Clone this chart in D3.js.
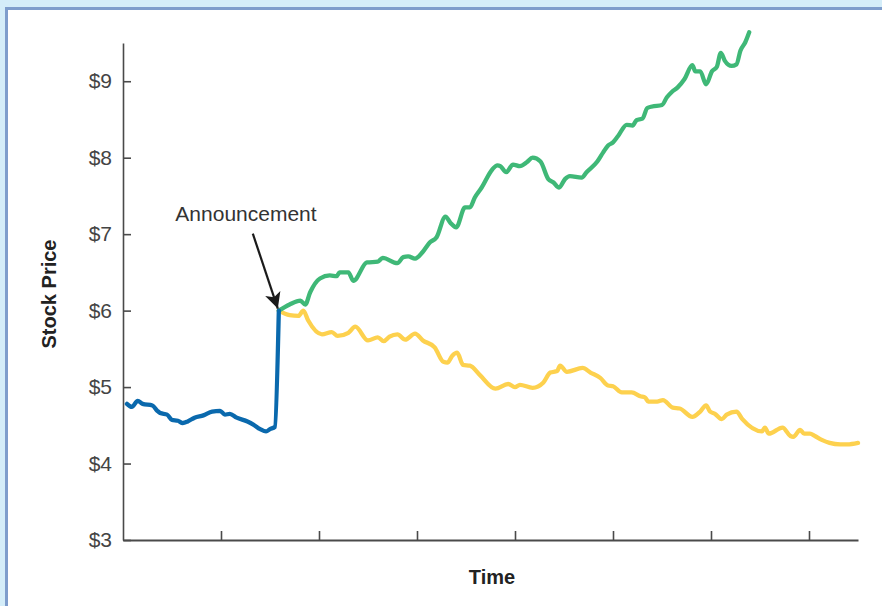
<!DOCTYPE html>
<html>
  <head>
    <title>Stock Price</title>
    <meta charset="utf-8">
    <style>
      body {
        margin: 0;
        background-color: #d4edf9;
      }

      .axis text {
        font: 21px "Liberation Sans", Arial, sans-serif;
        fill: #444;
      }

      .axis path,
      .axis line {
        fill: none;
        stroke: #4a4a4a;
        stroke-width: 1.6px;
      }

      .axisLabel {
        font: bold 20px "Liberation Sans", Arial, sans-serif;
        fill: #222;
      }

      .note {
        font: 21px "Liberation Sans", Arial, sans-serif;
        fill: #333;
      }

      .price {
        fill: none;
        stroke-width: 4.3px;
        stroke-linejoin: round;
        stroke-linecap: round;
      }
    </style>
  </head>
  <body>
  <svg class="graph"></svg>
  <script src="https://d3js.org/d3.v7.min.js"></script>
  <script>
    // time in tick units, price in dollars
    var beforeTime = [0.04, 0.09, 0.15, 0.20, 0.30, 0.35, 0.38, 0.45, 0.50, 0.56, 0.61, 0.66, 0.73, 0.82,
      0.91, 0.99, 1.04, 1.09, 1.16, 1.27, 1.33, 1.40, 1.46, 1.50, 1.55, 1.59];
    var beforePrice = [4.78, 4.74, 4.82, 4.78, 4.76, 4.69, 4.66, 4.64, 4.57, 4.56, 4.53, 4.55, 4.60, 4.63,
      4.68, 4.69, 4.64, 4.65, 4.60, 4.55, 4.51, 4.45, 4.42, 4.45, 4.48, 6.00];

    var upTime = [1.59, 1.70, 1.81, 1.86, 1.91, 2.01, 2.11, 2.18, 2.21, 2.30, 2.35, 2.49, 2.60, 2.65, 2.80,
      2.86, 2.91, 2.98, 3.06, 3.13, 3.20, 3.29, 3.34, 3.40, 3.49, 3.54, 3.59, 3.66, 3.77, 3.82, 3.85,
      3.91, 3.98, 4.05, 4.12, 4.18, 4.26, 4.34, 4.39, 4.45, 4.51, 4.56, 4.68, 4.73, 4.84, 4.90, 4.95,
      5.00, 5.05, 5.14, 5.20, 5.24, 5.30, 5.35, 5.40, 5.50, 5.55, 5.60, 5.66, 5.73, 5.81, 5.84, 5.89,
      5.95, 6.01, 6.06, 6.10, 6.14, 6.21, 6.26, 6.30, 6.35, 6.39];
    var upPrice = [6.00, 6.08, 6.13, 6.08, 6.24, 6.42, 6.46, 6.45, 6.50, 6.50, 6.39, 6.63, 6.64, 6.69, 6.62,
      6.70, 6.71, 6.68, 6.77, 6.89, 6.96, 7.23, 7.15, 7.09, 7.35, 7.35, 7.48, 7.61, 7.85, 7.90, 7.89,
      7.81, 7.91, 7.89, 7.94, 8.00, 7.95, 7.72, 7.68, 7.61, 7.72, 7.76, 7.74, 7.81, 7.95, 8.07, 8.16,
      8.20, 8.28, 8.43, 8.42, 8.49, 8.51, 8.65, 8.67, 8.69, 8.79, 8.86, 8.92, 9.03, 9.21, 9.13, 9.13,
      8.96, 9.13, 9.19, 9.37, 9.27, 9.20, 9.22, 9.40, 9.51, 9.64];

    var downTime = [1.59, 1.70, 1.79, 1.84, 1.89, 2.03, 2.13, 2.19, 2.30, 2.37, 2.50, 2.60, 2.66, 2.72, 2.80,
      2.88, 2.98, 3.06, 3.18, 3.27, 3.31, 3.36, 3.41, 3.47, 3.54, 3.64, 3.80, 3.93, 4.00, 4.05, 4.18,
      4.29, 4.36, 4.43, 4.46, 4.53, 4.69, 4.77, 4.87, 4.95, 5.00, 5.09, 5.19, 5.28, 5.33, 5.36, 5.45,
      5.51, 5.61, 5.68, 5.81, 5.89, 5.95, 5.99, 6.04, 6.11, 6.16, 6.26, 6.32, 6.52, 6.55, 6.59, 6.73,
      6.81, 6.84, 6.91, 6.95, 7.01, 7.06, 7.13, 7.21, 7.32, 7.39, 7.50];
    var downPrice = [6.00, 5.94, 5.93, 6.00, 5.87, 5.69, 5.72, 5.67, 5.71, 5.79, 5.61, 5.65, 5.60, 5.66, 5.69,
      5.62, 5.70, 5.61, 5.52, 5.33, 5.32, 5.41, 5.45, 5.29, 5.28, 5.16, 4.98, 5.04, 5.00, 5.03, 4.99,
      5.06, 5.19, 5.21, 5.28, 5.20, 5.25, 5.19, 5.12, 5.02, 5.01, 4.93, 4.93, 4.88, 4.86, 4.81, 4.81,
      4.83, 4.73, 4.72, 4.61, 4.68, 4.76, 4.68, 4.65, 4.58, 4.64, 4.68, 4.58, 4.42, 4.47, 4.39, 4.47,
      4.36, 4.35, 4.44, 4.39, 4.39, 4.36, 4.31, 4.27, 4.25, 4.25, 4.27];

    var priceTicks = [3, 4, 5, 6, 7, 8, 9];
    var timeTicks = [1, 2, 3, 4, 5, 6, 7];
    var announceTime = 1.59, announcePrice = 6;

    var W = 882, H = 606;
    var margin = {top: 43, right: 24, bottom: 66, left: 123};

    var graph = d3.select("svg")
      .attr("width", W)
      .attr("height", H)
      .style("display", "block");

    // panel
    graph.append("rect")
      .attr("x", 6.5)
      .attr("y", 8.5)
      .attr("width", W + 20)
      .attr("height", H + 20)
      .attr("fill", "white")
      .attr("stroke", "#7e9dcc")
      .attr("stroke-width", 3);

    var x = d3.scaleLinear()
      .domain([0, 7.5])
      .range([margin.left, W - margin.right]);

    var y = d3.scaleLinear()
      .domain([3, 9.5])
      .range([H - margin.bottom, margin.top]);

    var yAxis = d3.axisLeft(y)
      .tickValues(priceTicks)
      .tickSizeInner(-8)
      .tickSizeOuter(0)
      .tickPadding(11)
      .tickFormat(function(d) { return "$" + d; });

    var xAxis = d3.axisBottom(x)
      .tickValues(timeTicks)
      .tickSizeInner(-9)
      .tickSizeOuter(0)
      .tickFormat("");

    graph.append("g")
      .attr("class", "y axis")
      .attr("transform", "translate(" + margin.left + ",0)")
      .call(yAxis);

    graph.append("g")
      .attr("class", "x axis")
      .attr("transform", "translate(0," + (H - margin.bottom) + ")")
      .call(xAxis)
      .select(".domain")
      .style("stroke-width", "2px");

    var line = d3.line()
      .curve(d3.curveMonotoneX)
      .x(function(d) { return x(d[0]); })
      .y(function(d) { return y(d[1]); });

    function pairs(t, p) {
      return t.map(function(d, i) { return [d, p[i]]; });
    }

    graph.append("path")
      .attr("class", "price")
      .attr("stroke", "#fdd14e")
      .attr("d", line(pairs(downTime, downPrice)));

    graph.append("path")
      .attr("class", "price")
      .attr("stroke", "#3fb877")
      .attr("d", line(pairs(upTime, upPrice)));

    graph.append("path")
      .attr("class", "price")
      .attr("stroke", "#0a69ad")
      .attr("d", line(pairs(beforeTime, beforePrice)));

    // announcement arrow
    graph.append("defs").append("marker")
      .attr("id", "head")
      .attr("viewBox", "0 0 10 10")
      .attr("refX", 10)
      .attr("refY", 5)
      .attr("markerWidth", 18)
      .attr("markerHeight", 16)
      .attr("markerUnits", "userSpaceOnUse")
      .attr("orient", "auto")
      .append("path")
      .attr("d", "M0,0L10,5L0,10L2.5,5Z")
      .attr("fill", "#1a1a1a");

    var tipX = x(announceTime), tipY = y(announcePrice);
    graph.append("line")
      .attr("x1", tipX - 26)
      .attr("y1", tipY - 77)
      .attr("x2", tipX - 1)
      .attr("y2", tipY - 2)
      .attr("stroke", "#1a1a1a")
      .attr("stroke-width", 2.2)
      .attr("marker-end", "url(#head)");

    graph.append("text")
      .attr("class", "note")
      .attr("x", 246)
      .attr("y", 221)
      .style("text-anchor", "middle")
      .text("Announcement");

    // axis labels
    graph.append("text")
      .attr("class", "axisLabel")
      .attr("transform", "translate(56,294) rotate(-90)")
      .style("text-anchor", "middle")
      .text("Stock Price");

    graph.append("text")
      .attr("class", "axisLabel")
      .attr("x", 492)
      .attr("y", 584)
      .style("text-anchor", "middle")
      .text("Time");
  </script>
  </body>
</html>
